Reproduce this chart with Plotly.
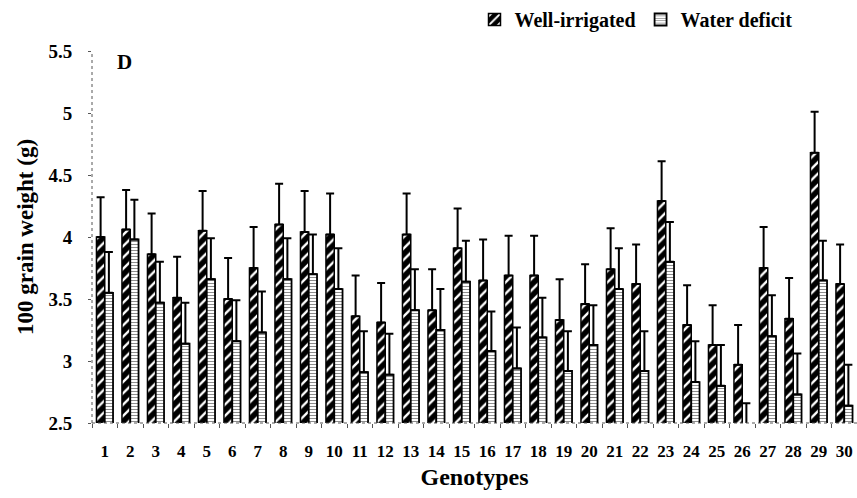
import plotly.graph_objects as go

# 100 grain weight (g) of 30 genotypes under two irrigation regimes
genotypes = [str(i) for i in range(1, 31)]

well_irrigated = [4.00, 4.06, 3.86, 3.51, 4.05, 3.50, 3.75, 4.10, 4.04, 4.02,
                  3.36, 3.31, 4.02, 3.41, 3.91, 3.65, 3.69, 3.69, 3.33, 3.46,
                  3.74, 3.62, 4.29, 3.29, 3.13, 2.97, 3.75, 3.34, 4.68, 3.62]
well_irrigated_se = [0.32, 0.32, 0.33, 0.33, 0.32, 0.33, 0.33, 0.33, 0.33, 0.33,
                     0.33, 0.32, 0.33, 0.33, 0.32, 0.33, 0.32, 0.32, 0.33, 0.32,
                     0.33, 0.32, 0.32, 0.32, 0.32, 0.32, 0.33, 0.33, 0.33, 0.32]

water_deficit = [3.55, 3.98, 3.47, 3.14, 3.66, 3.16, 3.23, 3.66, 3.70, 3.58,
                 2.91, 2.89, 3.41, 3.25, 3.64, 3.08, 2.94, 3.19, 2.92, 3.13,
                 3.58, 2.92, 3.80, 2.83, 2.80, 2.34, 3.20, 2.73, 3.65, 2.64]
water_deficit_se = [0.33, 0.32, 0.33, 0.33, 0.33, 0.33, 0.33, 0.33, 0.32, 0.33,
                    0.33, 0.33, 0.33, 0.33, 0.33, 0.32, 0.33, 0.32, 0.32, 0.32,
                    0.33, 0.32, 0.32, 0.33, 0.33, 0.32, 0.33, 0.33, 0.32, 0.33]

y_ticks = [2.5, 3.0, 3.5, 4.0, 4.5, 5.0, 5.5]
y_tick_text = ["2.5", "3", "3.5", "4", "4.5", "5", "5.5"]

SERIF = "Liberation Serif, Times New Roman, serif"

fig = go.Figure()

fig.add_trace(go.Bar(
    name="Well-irrigated",
    x=genotypes,
    y=well_irrigated,
    marker=dict(
        color="black",
        line=dict(color="black", width=1.5),
        pattern=dict(shape="/", fgcolor="white", bgcolor="black",
                     size=8, solidity=0.3, fillmode="replace"),
    ),
    error_y=dict(type="data", symmetric=False, array=well_irrigated_se,
                 arrayminus=[0] * len(well_irrigated_se),
                 color="black", thickness=2, width=4),
))

fig.add_trace(go.Bar(
    name="Water deficit",
    x=genotypes,
    y=water_deficit,
    marker=dict(
        color="white",
        line=dict(color="black", width=1.8),
        pattern=dict(shape="-", fgcolor="black", bgcolor="white",
                     size=3, solidity=0.15, fillmode="replace"),
    ),
    error_y=dict(type="data", symmetric=False, array=water_deficit_se,
                 arrayminus=[0] * len(water_deficit_se),
                 color="black", thickness=2, width=4),
))

# dotted axis lines
axis_line = dict(color="#555555", width=1, dash="dot")
fig.add_shape(type="line", xref="paper", yref="paper", x0=0, x1=0, y0=0, y1=1,
              line=axis_line)
fig.add_shape(type="line", xref="paper", yref="paper", x0=0, x1=1, y0=0, y1=0,
              line=axis_line)

fig.add_annotation(text="D", xref="paper", yref="paper", x=0.03, y=0.97,
                   xanchor="left", yanchor="middle", showarrow=False,
                   font=dict(family=SERIF, size=21, color="black", weight="bold"))

fig.update_layout(
    width=857, height=498,
    margin=dict(l=92, r=0, t=46, b=75),
    paper_bgcolor="white", plot_bgcolor="white",
    barmode="group", bargap=0.35, bargroupgap=0.0,
    font=dict(family=SERIF, color="black"),
    showlegend=True,
    legend=dict(orientation="h", x=0.50, y=1.085, xanchor="left", yanchor="middle",
                font=dict(family=SERIF, size=20, color="black", weight="bold"),
                bgcolor="rgba(0,0,0,0)", itemwidth=30, traceorder="normal"),
    xaxis=dict(
        type="category",
        showgrid=False, zeroline=False, showline=False,
        ticks="outside", tickson="boundaries", ticklen=4, tickcolor="#555555",
        tickangle=0,
        tickfont=dict(family=SERIF, size=17, color="black", weight="bold"),
        ticklabelstandoff=16,
        title=dict(text="Genotypes", standoff=8,
                   font=dict(family=SERIF, size=24, color="black", weight="bold")),
    ),
    yaxis=dict(
        range=[2.5, 5.5],
        tickvals=y_ticks, ticktext=y_tick_text,
        showgrid=False, zeroline=False, showline=False,
        ticks="outside", ticklen=3, tickcolor="#555555",
        tickfont=dict(family=SERIF, size=19, color="black", weight="bold"),
        ticklabelstandoff=12,
        title=dict(text="100 grain weight (g)", standoff=8,
                   font=dict(family=SERIF, size=23, color="black", weight="bold")),
    ),
)

fig.write_html("out.html")
